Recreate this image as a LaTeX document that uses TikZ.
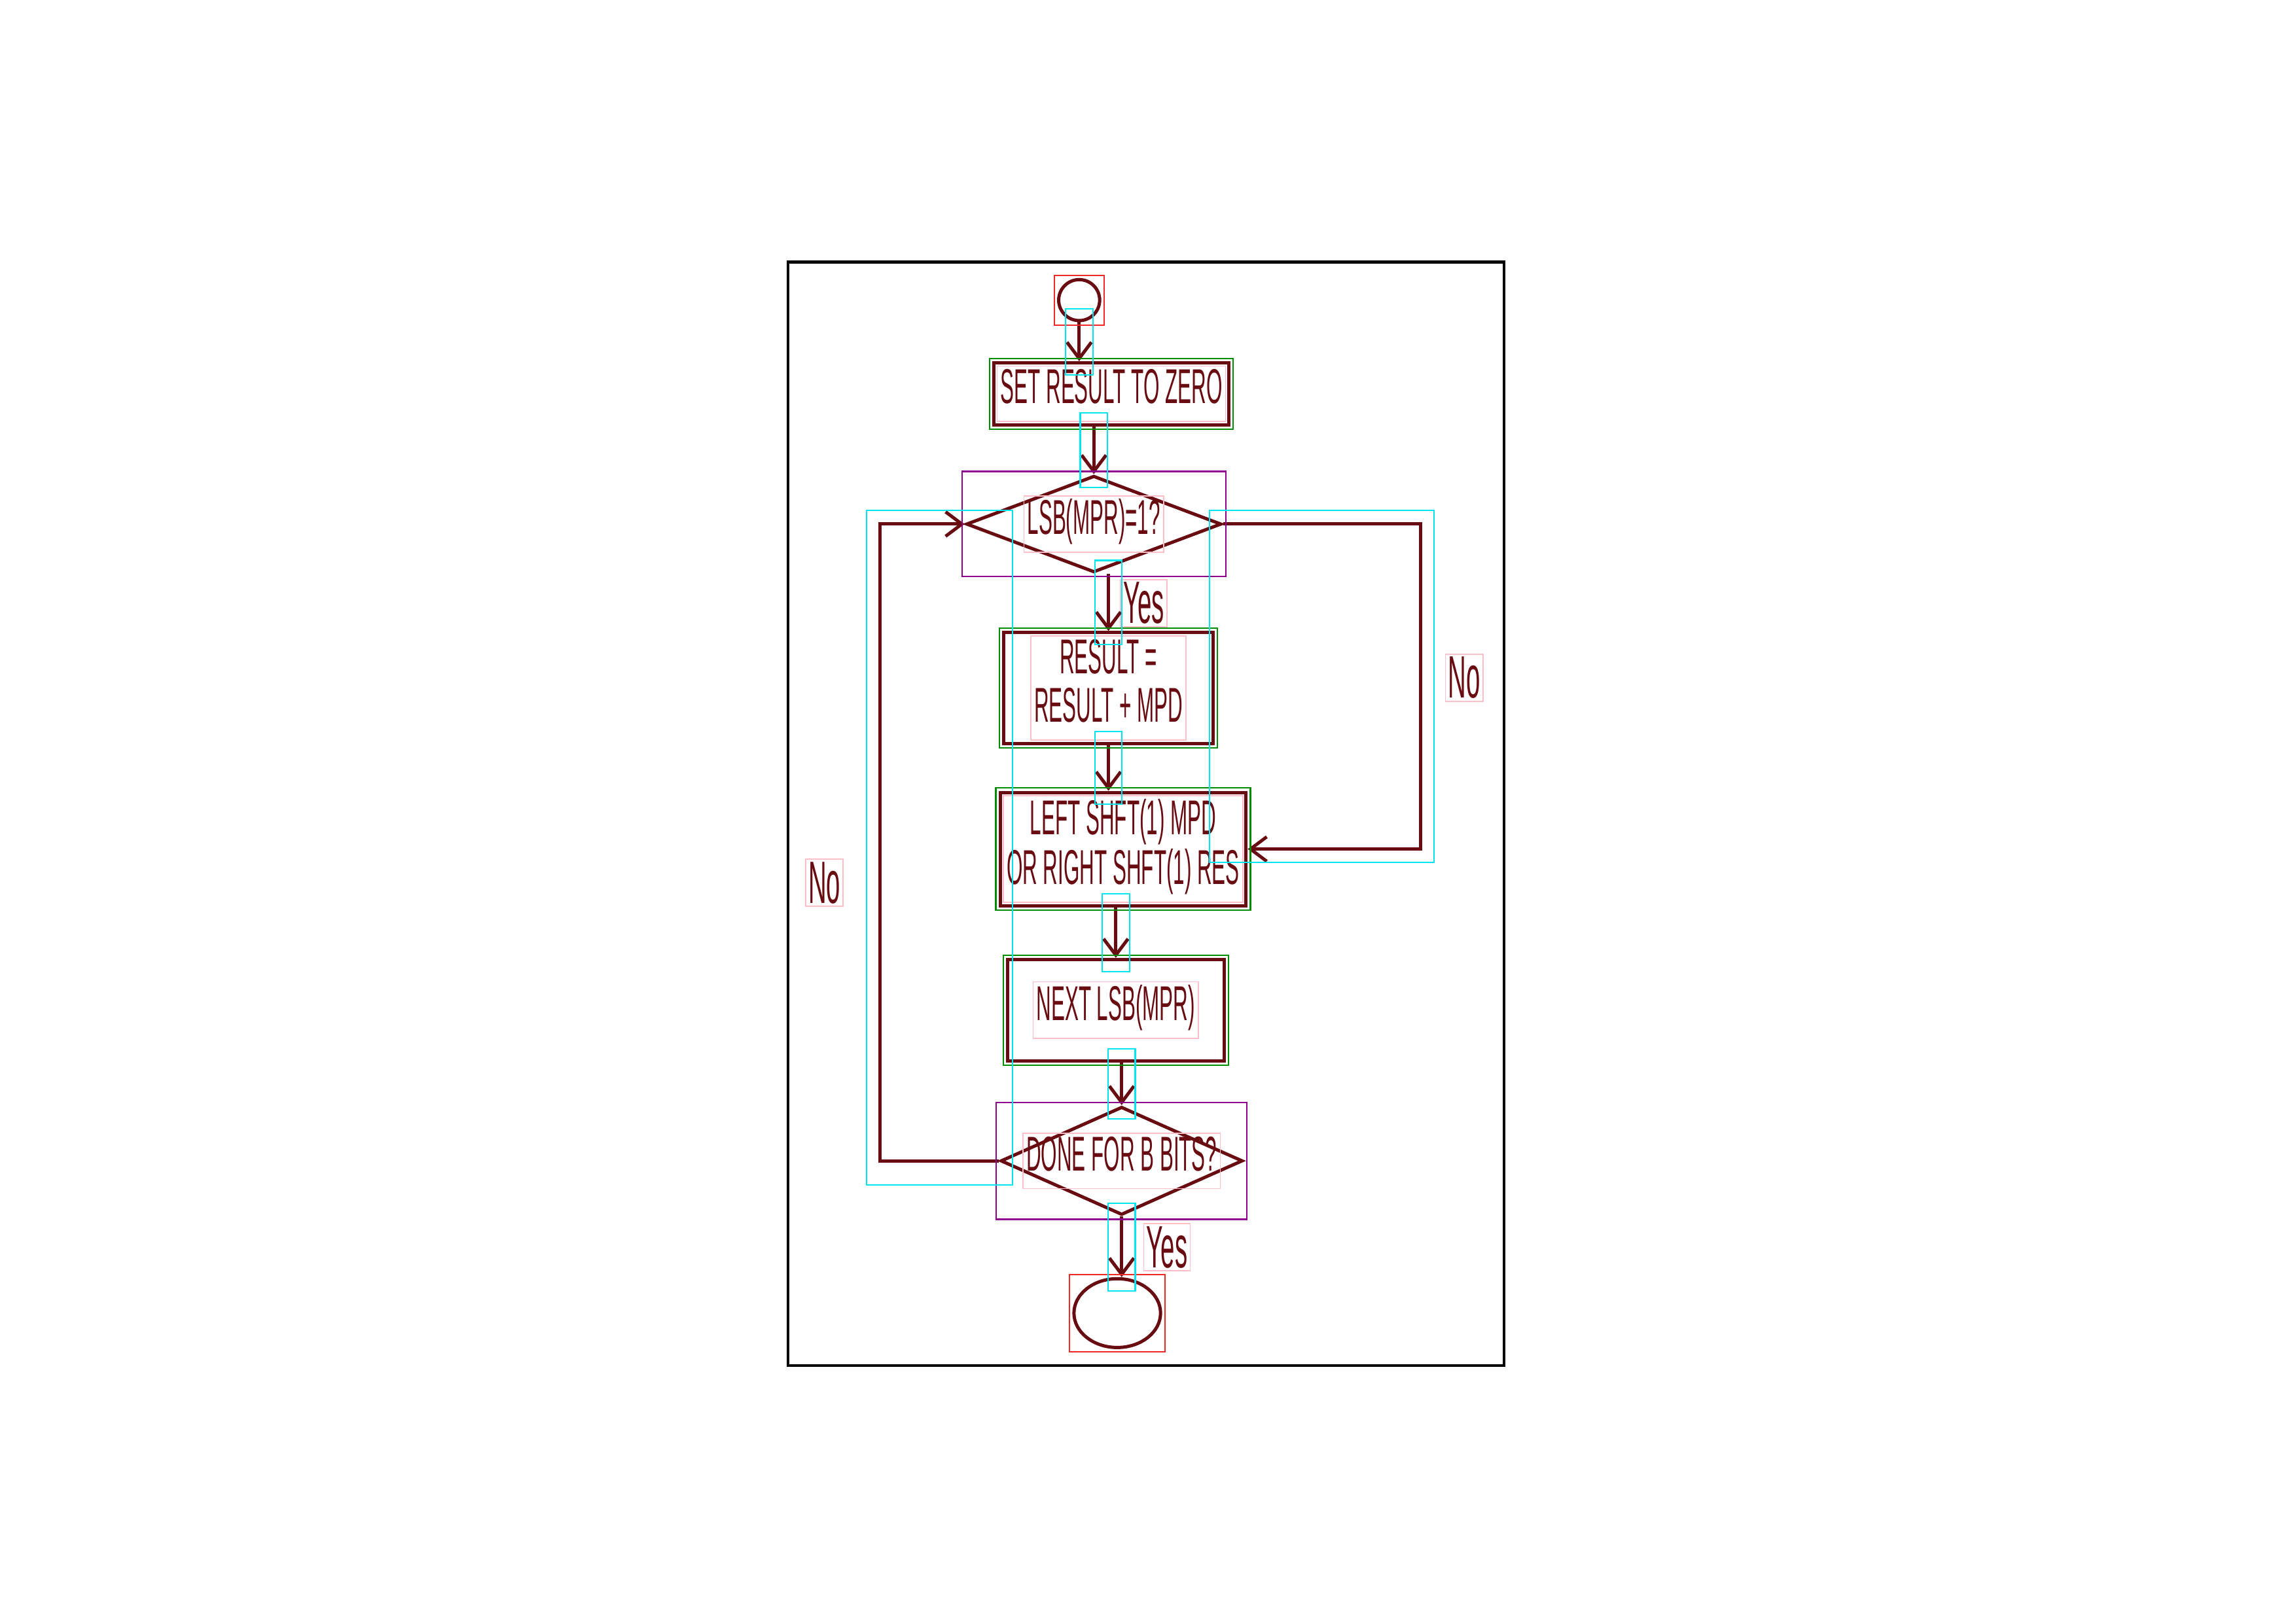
\documentclass[tikz,border=0pt]{standalone}
\usepackage{fontspec}
\newfontfamily\handfont[FakeStretch=0.42]{Liberation Sans}
\usetikzlibrary{shapes.geometric,arrows.meta,fit}
\definecolor{ink}{RGB}{105,12,18}
\definecolor{tpink}{RGB}{255,190,200}
\definecolor{bgreen}{RGB}{0,140,0}
\definecolor{bpurple}{RGB}{140,0,140}
\definecolor{bcyan}{RGB}{0,230,240}
\definecolor{bred}{RGB}{240,40,40}
\setlength{\fboxsep}{1pt}
\setlength{\fboxrule}{0.4pt}
\newcommand{\txt}[1]{{\color{tpink}\fbox{\color{ink}\begin{tabular}{@{}c@{}}#1\end{tabular}}}}
\tikzset{
	handtext/.style={text=ink, font=\handfont\fontsize{18}{18}\selectfont},
	process/.style={draw=ink, line width=1.2pt, rectangle, inner sep=1pt, handtext},
	decision/.style={draw=ink, line width=1.2pt, diamond, aspect=2.2, inner sep=-5pt, handtext},
	startstop/.style={draw=ink, line width=1.2pt, ellipse, inner sep=0pt},
	lbl/.style={draw=tpink, line width=0.4pt, inner sep=1pt, text=ink, font=\handfont\fontsize{22}{22}\selectfont},
	arr/.style={draw=ink, line width=1.2pt, -{Straight Barb[length=6pt,width=9pt]}},
	gbox/.style={draw=bgreen, line width=0.5pt, inner sep=1pt},
	pbox/.style={draw=bpurple, line width=0.5pt, inner sep=1pt},
	rbox/.style={draw=bred, line width=0.5pt, inner sep=1pt},
	cbox/.style={draw=bcyan, line width=0.5pt, inner sep=5pt}
}

\begin{document}
\begin{tikzpicture}[x=0.01894cm, y=-0.01894cm]
	\useasboundingbox (0,0) rectangle (1568,1109);
	\draw[line width=1pt] (538,179) rectangle (1027,933);

	\node[startstop, minimum width=0.53cm, minimum height=0.53cm] (start) at (737,205) {};
	\node[process, minimum width=2.99cm, minimum height=0.72cm] (setzero) at (759,269) {\txt{SET RESULT TO ZERO}};
	\node[decision, minimum width=3.3cm, minimum height=1.25cm] (lsb) at (747,358) {\txt{LSB(MPR)=1?}};
	\node[process, minimum width=2.71cm, minimum height=1.31cm] (addmpd) at (757,470) {\txt{RESULT =\\RESULT + MPD}};
	\node[process, minimum width=3.14cm, minimum height=1.44cm] (shift) at (767,580) {\txt{LEFT SHFT(1) MPD\\OR RIGHT SHFT(1) RES}};
	\node[process, minimum width=2.80cm, minimum height=1.31cm] (nextlsb) at (762,690) {\txt{NEXT LSB(MPR)}};
	\node[decision, minimum width=3.13cm, minimum height=1.40cm] (done) at (766,793) {\txt{DONE FOR B BITS?}};
	\node[startstop, minimum width=1.12cm, minimum height=0.89cm] (stop) at (763,897) {};

	\node[lbl] (yes1) at (781,412) {Yes};
	\node[lbl] (no1) at (1000,463) {No};
	\node[lbl] (no2) at (563,603) {No};
	\node[lbl] (yes2) at (797,852) {Yes};

	\coordinate (rturn) at (970,358);
	\coordinate (lturn) at (601,800);

	\draw[arr] (start.south) coordinate (s1) -- (start.south |- setzero.north) coordinate (e1);
	\draw[arr] (setzero.south -| lsb.north) coordinate (s2) -- (lsb.north) coordinate (e2);
	\draw[arr] (lsb.south -| addmpd.north) coordinate (s3) -- (addmpd.north) coordinate (e3);
	\draw[arr] (addmpd.south) coordinate (s4) -- (addmpd.south |- shift.north) coordinate (e4);
	\draw[arr] (shift.south -| nextlsb.north) coordinate (s5) -- (nextlsb.north) coordinate (e5);
	\draw[arr] (nextlsb.south -| done.north) coordinate (s6) -- (done.north) coordinate (e6);
	\draw[arr] (done.south) coordinate (s7) -- (done.south |- stop.north) coordinate (e7);
	\draw[arr] (lsb.east) coordinate (s8) -- (lsb.east -| rturn) |- (shift.east) coordinate (e8);
	\draw[arr] (done.west) coordinate (s9) -- (done.west -| lturn) |- (lsb.west) coordinate (e9);

	\foreach \n in {setzero,addmpd,shift,nextlsb}
		\node[gbox, fit=(\n)] {};
	\foreach \n in {lsb,done}
		\node[pbox, fit=(\n)] {};
	\foreach \n in {start,stop}
		\node[rbox, fit=(\n)] {};
	\foreach \i in {1,...,7}
		\node[cbox, fit=(s\i)(e\i)] {};
	\node[cbox, fit=(s8)(rturn)(e8)] {};
	\node[cbox, fit=(s9)(lturn)(e9)] {};
\end{tikzpicture}
\end{document}
